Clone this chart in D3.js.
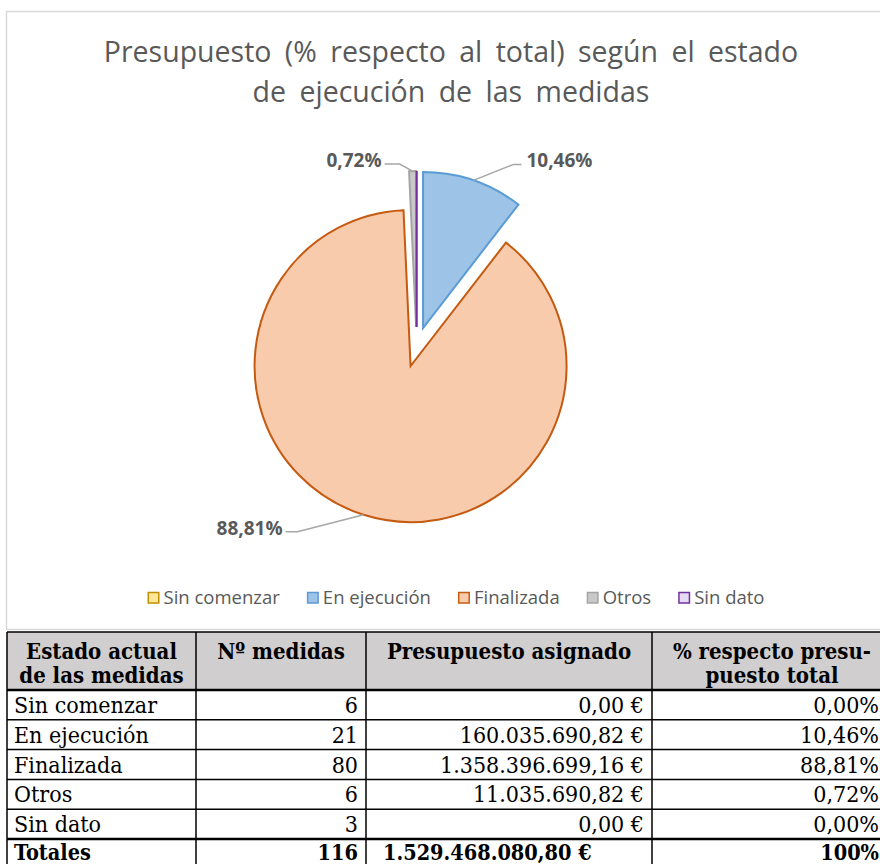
<!DOCTYPE html>
<html>
<head>
<meta charset="utf-8">
<script src="https://cdn.jsdelivr.net/npm/d3@7"></script>
<style>
body{margin:0;background:#fff;}
svg{display:block;}
</style>
</head>
<body>
<div id="canvas"></div>
<script>
//    data
var estados = ['Sin comenzar','En ejecución','Finalizada','Otros','Sin dato'];
var medidas = [6,21,80,6,3];
var presupuesto = [0.00,160035690.82,1358396699.16,11035690.82,0.00];
var porcentajes = [0.00,10.46,88.81,0.72,0.00];
var cabecera = [['Estado actual','de las medidas'],['Nº medidas'],['Presupuesto asignado'],['% respecto presu-','puesto total']];

//    colors
var fills = ['#FFE699','#9DC3E6','#F8CBAD','#C9C9C9','#E6DAF2'];
var strokes = ['#BF9000','#5B9BD5','#C55A11','#A5A5A5','#7030A0'];

//    defination
var r = 156;
var explode = 20;
var cx = 416.6;
var cy = 347;
var center = 451;
var sans = '"Open Sans",sans-serif';

var loc = d3.formatLocale({decimal:',',thousands:'.',grouping:[3],currency:['',' €']});
var fmtEuro = loc.format('$,.2f');
var fmtPct = function(v){ return loc.format(',.2f')(v) + '%'; };

var dataset = estados.map(function(e,i){
    return {label:e,value:presupuesto[i],pct:porcentajes[i],n:medidas[i],fill:fills[i],stroke:strokes[i]};
});

var svg = d3.select('#canvas')
    .append('svg')
    .attr('width',880)
    .attr('height',864)

//    chart frame
svg.append('rect')
    .attr('x',6.5)
    .attr('y',11.5)
    .attr('width',900)
    .attr('height',618)
    .attr('fill','#fff')
    .attr('stroke','#D9D9D9')
    .attr('stroke-width',1.5)

//    title
var title = svg.append('text')
    .attr('class','title')
    .attr('text-anchor','middle')
    .attr('fill','#595959')
    .style('font-family',sans)
    .style('font-size','28.5px')
    .style('word-spacing','6px')
title.append('tspan').attr('x',center).attr('y',62).text('Presupuesto (% respecto al total) según el estado')
title.append('tspan').attr('x',center).attr('y',102).text('de ejecución de las medidas')

//    pie
var pie = d3.pie()
    .sort(null)
    .value(function(d){ return d.value; })
var arc = d3.arc()
    .outerRadius(r)
    .innerRadius(0)

var arcs = pie(dataset);
function mid(d){ return (d.startAngle + d.endAngle) / 2; }
function shift(d){
    var m = mid(d);
    return [cx + explode*Math.sin(m), cy - explode*Math.cos(m)];
}

svg.selectAll('.arc')
    .data(arcs)
    .enter()
    .append('path')
    .attr('class','arc')
    .attr('transform',function(d){ var s = shift(d); return 'translate('+s[0]+','+s[1]+')'; })
    .attr('d',arc)
    .attr('fill',function(d){ return d.data.fill; })
    .attr('stroke',function(d){ return d.data.stroke; })
    .attr('stroke-width',2)
    .attr('stroke-linejoin','miter')

//    data labels (leader nudges per slice)
var nudge = {'En ejecución':[40,-16,8],'Finalizada':[-66,17,-12],'Otros':[-13,-7,-15]};
var labelled = arcs.filter(function(d){ return d.data.pct > 0; });

labelled.forEach(function(d){
    var s = shift(d), m = mid(d), k = nudge[d.data.label];
    var p = [s[0] + r*Math.sin(m), s[1] - r*Math.cos(m)];
    var e = [p[0] + k[0], p[1] + k[1]];
    var h = [e[0] + k[2], e[1]];
    svg.append('polyline')
        .attr('points',[p,e,h].map(function(q){ return q.join(','); }).join(' '))
        .attr('fill','none')
        .attr('stroke','#A6A6A6')
        .attr('stroke-width',1.5)
    svg.append('text')
        .attr('class','dlabel')
        .attr('x',h[0] + (k[2] > 0 ? 5 : -3))
        .attr('y',h[1] + 3)
        .attr('text-anchor',k[2] > 0 ? 'start' : 'end')
        .attr('fill','#595959')
        .style('font-family',sans)
        .style('font-size','19px')
        .style('font-weight','bold')
        .text(fmtPct(d.data.pct))
});

//    legend
var legend = svg.append('g').attr('class','legend');
var items = legend.selectAll('g')
    .data(dataset)
    .enter()
    .append('g')
items.append('rect')
    .attr('x',0.75)
    .attr('y',-5.5)
    .attr('width',10.5)
    .attr('height',10.5)
    .attr('fill',function(d){ return d.fill; })
    .attr('stroke',function(d){ return d.stroke; })
    .attr('stroke-width',1.5)
items.append('text')
    .attr('x',16)
    .attr('y',6)
    .attr('fill','#595959')
    .style('font-family',sans)
    .style('font-size','18.5px')
    .text(function(d){ return d.label; })

var widths = [];
items.select('text').each(function(){ widths.push(16 + this.getComputedTextLength()); });
var gap = 27;
var totalW = d3.sum(widths) + gap*(widths.length-1);
var xpos = center + 5 - totalW/2;
items.attr('transform',function(d,i){
    var t = 'translate('+xpos+',598)';
    xpos += widths[i] + gap;
    return t;
})

//    table
var colX = [7,196,366,652,892];
var headTop = 632, headBot = 690;
var y = d3.scaleLinear().domain([0,6]).range([headBot,headBot + 6*29.8]);
var tfont = '"DejaVu Serif Condensed","Liberation Serif",serif';

var table = svg.append('g').attr('class','table').style('font-family',tfont);

table.append('rect')
    .attr('x',colX[0])
    .attr('y',headTop)
    .attr('width',colX[4]-colX[0])
    .attr('height',headBot-headTop)
    .attr('fill','#D0CECE')

cabecera.forEach(function(lines,c){
    var tx = table.append('text')
        .attr('text-anchor','middle')
        .style('font-size','22px')
        .style('font-weight','bold')
        .attr('fill','#000')
    lines.forEach(function(l,j){
        tx.append('tspan').attr('x',(colX[c]+colX[c+1])/2).attr('y',headTop + 27 + j*24).text(l)
    })
})

var rows = dataset.map(function(d){
    return {cells:[d.label,d.n,fmtEuro(d.value),fmtPct(d.pct)],bold:false};
});
rows.push({cells:['Totales',d3.sum(medidas),fmtEuro(d3.sum(presupuesto)),d3.format('.0f')(d3.sum(porcentajes))+'%'],bold:true});

rows.forEach(function(row,i){
    row.cells.forEach(function(v,c){
        var first = c === 0;
        var anchorStart = first || (row.bold && c === 2);
        var xr = c === 3 ? 879 : colX[c+1]-8;
        table.append('text')
            .attr('x',first ? colX[0]+7 : (anchorStart ? colX[c]+17 : xr))
            .attr('y',y(i) + (row.bold ? 20.5 : 23))
            .attr('text-anchor',anchorStart ? 'start' : 'end')
            .style('font-size',row.bold ? '21.5px' : '23px')
            .style('font-weight',row.bold ? 'bold' : 'normal')
            .attr('fill','#000')
            .text(v)
    })
})

//    grid lines
var hLines = [headTop].concat(d3.range(0,6).map(function(i){ return y(i); }));
table.selectAll('.hl')
    .data(hLines)
    .enter()
    .append('line')
    .attr('x1',colX[0])
    .attr('x2',colX[4])
    .attr('y1',function(d){ return d; })
    .attr('y2',function(d){ return d; })
    .attr('stroke','#000')
    .attr('stroke-width',function(d,i){ return (i === 1 || i === 6) ? 2.5 : 1.5; })
table.selectAll('.vl')
    .data(colX)
    .enter()
    .append('line')
    .attr('x1',function(d){ return d; })
    .attr('x2',function(d){ return d; })
    .attr('y1',headTop)
    .attr('y2',870)
    .attr('stroke','#000')
    .attr('stroke-width',1.5)
</script>
</body>
</html>
